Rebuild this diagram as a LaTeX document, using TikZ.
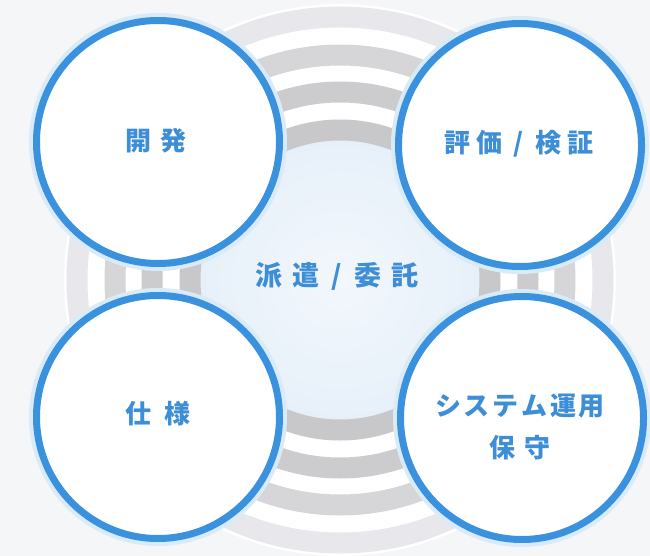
\documentclass[tikz,border=0pt]{standalone}
\usepackage{fontspec}
\newfontfamily\jp{Noto Sans CJK JP}
\definecolor{bgc}{HTML}{F5F6F8}
\definecolor{ringA}{HTML}{C8C8CA}
\definecolor{ringB}{HTML}{CCCCCE}
\definecolor{ringC}{HTML}{D6D6D9}
\definecolor{ringD}{HTML}{E8E8EC}
\definecolor{cblue}{HTML}{3A92DE}
\definecolor{tblue}{HTML}{3D8ED6}
\definecolor{halo}{HTML}{D9EAF8}
\definecolor{innerA}{HTML}{F2F7FC}
\definecolor{innerB}{HTML}{E7F0F9}
\begin{document}
\begin{tikzpicture}[x=1pt,y=-1pt,
  bubble/.style={circle, minimum size=243pt, inner sep=0pt, draw=cblue, line width=7pt, fill=white,
    preaction={draw=halo, line width=15pt}},
  lbl/.style={text=tblue, font=\jp\bfseries\fontsize{26}{42}\selectfont, align=center, inner sep=0pt},
  band/.style={line width=21pt}]
\useasboundingbox (0,0) rectangle (650,556);
\fill[bgc] (0,0) rectangle (650,556);
\coordinate (o) at (340,280);
% background rings
\fill[white] (o) circle[radius=276pt];
\shade[inner color=innerA, outer color=innerB] (o) circle[radius=140pt];
\draw[band, ringA] (o) circle[radius=150pt];
\draw[band, ringB] (o) circle[radius=188pt];
\draw[band, ringC] (o) circle[radius=225pt];
\draw[band, ringD] (o) circle[radius=263pt];
% circles
\node[bubble] (dev) at (158,142) {};
\node[bubble] (eval) at (520,145) {};
\node[bubble] (spec) at (158,417) {};
\node[bubble] (ops) at (522,418) {};
% labels
\node[lbl] (tdev) at (156,141) {開\hspace{10pt}発};
\node[lbl] (teval) at (519,143.5) {評\hspace{7pt}価\hspace{11pt}/\hspace{11pt}検\hspace{7pt}証};
\node[lbl] (tspec) at (158,414) {仕\hspace{14pt}様};
\node[lbl] (tops) at (520,427) {シ\hspace{2.8pt}ス\hspace{2.8pt}テ\hspace{2.8pt}ム\hspace{2.8pt}運\hspace{2.8pt}用\\保\hspace{10pt}守};
\node[lbl, font=\jp\bfseries\fontsize{27}{32}\selectfont] (tcenter) at (337,276) {派\hspace{10pt}遣\hspace{12pt}/\hspace{12pt}委\hspace{10pt}託};
\end{tikzpicture}
\end{document}
